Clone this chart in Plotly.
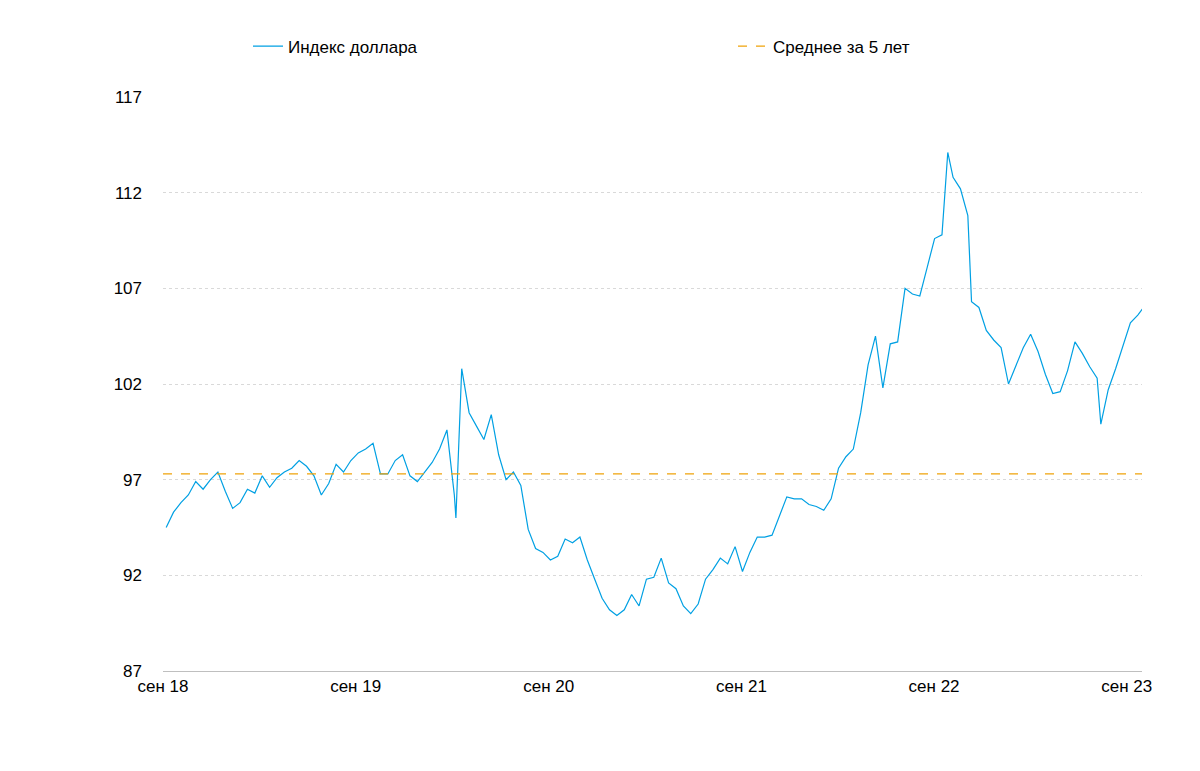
import plotly.graph_objects as go

dates = ["2018-09-07","2018-09-21","2018-10-05","2018-10-19","2018-11-02","2018-11-16","2018-11-30","2018-12-14","2018-12-28",
"2019-01-11","2019-01-25","2019-02-08","2019-02-22","2019-03-08","2019-03-22","2019-04-05","2019-04-19","2019-05-03","2019-05-17","2019-05-31","2019-06-14","2019-06-28","2019-07-12","2019-07-26","2019-08-09","2019-08-23","2019-09-06","2019-09-20","2019-10-04","2019-10-18","2019-11-01","2019-11-15","2019-11-29","2019-12-13","2019-12-27",
"2020-01-10","2020-01-24","2020-02-07","2020-02-21","2020-03-06","2020-03-09","2020-03-20","2020-04-03","2020-04-17","2020-05-01","2020-05-15","2020-05-29","2020-06-12","2020-06-26","2020-07-10","2020-07-24","2020-08-07","2020-08-21","2020-09-04","2020-09-18","2020-10-02","2020-10-16","2020-10-30","2020-11-13","2020-11-27","2020-12-11","2020-12-25",
"2021-01-08","2021-01-22","2021-02-05","2021-02-19","2021-03-05","2021-03-19","2021-04-02","2021-04-16","2021-04-30","2021-05-14","2021-05-28","2021-06-11","2021-06-25","2021-07-09","2021-07-23","2021-08-06","2021-08-20","2021-09-03","2021-09-17","2021-10-01","2021-10-15","2021-10-29","2021-11-12","2021-11-26","2021-12-10","2021-12-24",
"2022-01-07","2022-01-21","2022-02-04","2022-02-18","2022-03-04","2022-03-18","2022-04-01","2022-04-15","2022-04-29","2022-05-13","2022-05-27","2022-06-10","2022-06-24","2022-07-08","2022-07-22","2022-08-05","2022-08-19","2022-09-02","2022-09-16","2022-09-27","2022-10-07","2022-10-21","2022-11-04","2022-11-11","2022-11-25","2022-12-09","2022-12-23",
"2023-01-06","2023-01-20","2023-02-03","2023-02-17","2023-03-03","2023-03-17","2023-03-31","2023-04-14","2023-04-28","2023-05-12","2023-05-26","2023-06-09","2023-06-23","2023-07-07","2023-07-14","2023-07-28","2023-08-11","2023-08-25","2023-09-08","2023-09-22","2023-10-03"]

dxy = [94.5,95.3,95.8,96.2,96.9,96.5,97.0,97.4,96.4,
95.5,95.8,96.5,96.3,97.2,96.6,97.1,97.4,97.6,98.0,97.7,97.2,96.2,96.8,97.8,97.4,98.0,98.4,98.6,98.9,97.3,97.3,98.0,98.3,97.2,96.9,
97.4,97.9,98.6,99.6,96.2,95.0,102.8,100.5,99.8,99.1,100.4,98.3,97.0,97.4,96.7,94.4,93.4,93.2,92.8,93.0,93.9,93.7,94.0,92.8,91.8,90.8,90.2,
89.9,90.2,91.0,90.4,91.8,91.9,92.9,91.6,91.3,90.4,90.0,90.5,91.8,92.3,92.9,92.6,93.5,92.2,93.2,94.0,94.0,94.1,95.1,96.1,96.0,96.0,
95.7,95.6,95.4,96.0,97.6,98.2,98.6,100.5,103.0,104.5,101.8,104.1,104.2,107.0,106.7,106.6,108.1,109.6,109.8,114.1,112.8,112.2,110.8,106.3,106.0,104.8,104.3,
103.9,102.0,102.9,103.9,104.6,103.7,102.5,101.5,101.6,102.7,104.2,103.6,102.9,102.3,99.9,101.7,102.8,104.0,105.2,105.6,106.0]

mean5 = 97.3
tick_vals = ["2018-09-01","2019-09-01","2020-09-01","2021-09-01","2022-09-01","2023-09-01"]
tick_text = ["сен 18","сен 19","сен 20","сен 21","сен 22","сен 23"]

fig = go.Figure()
fig.add_trace(go.Scatter(x=dates, y=dxy, mode="lines", name="Индекс доллара",
                         line=dict(color="#00A0E3", width=1.2)))
fig.add_trace(go.Scatter(x=[tick_vals[0], "2023-09-30"], y=[mean5, mean5], mode="lines",
                         name="Среднее за 5 лет", line=dict(color="#F0A30A", width=1.3, dash="dash")))
fig.update_layout(
    width=1200, height=771, paper_bgcolor="white", plot_bgcolor="white",
    margin=dict(l=155, r=66, t=89, b=108, autoexpand=False),
    font=dict(family="Liberation Sans, Arial", size=17, color="#000"),
    legend=dict(orientation="h", xref="container", yref="container", x=0.2, y=0.95,
                xanchor="left", yanchor="middle",
                entrywidth=440, entrywidthmode="pixels", font=dict(size=17)),
    xaxis=dict(range=["2018-09-01","2023-09-30"], tickvals=tick_vals, ticktext=tick_text,
               showgrid=False, showline=True, linecolor="#BFBFBF", ticks="", automargin=False),
    yaxis=dict(range=[87,117], tickvals=[87,92,97,102,107,112,117], showgrid=True,
               gridcolor="#D9D9D9", griddash="dot", zeroline=False, ticks="", automargin=False,
               ticklabelstandoff=20),
)
fig.write_html("out.html")
